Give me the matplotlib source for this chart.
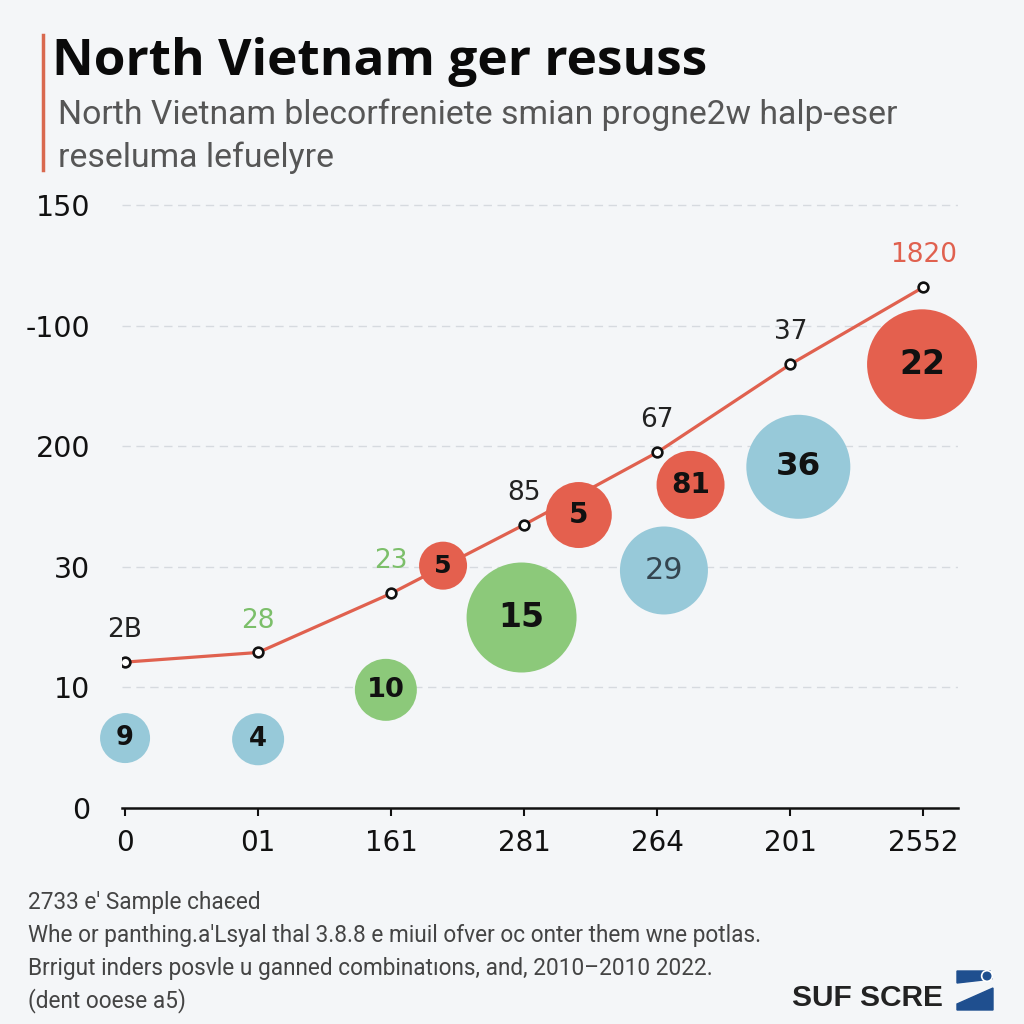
import matplotlib
matplotlib.use("Agg")
import matplotlib.pyplot as plt
from matplotlib.lines import Line2D
from matplotlib.patches import Circle, Polygon

# category positions on the x axis and their (odd) labels
x_pos = [0, 1, 2, 3, 4, 5, 6]
x_labels = ["0", "01", "161", "281", "264", "201", "2552"]
y_pos = [0, 1, 2, 3, 4, 5]
y_labels = ["0", "10", "30", "200", "-100", "150"]

# red trend line
line_y = [1.21, 1.29, 1.78, 2.35, 2.95, 3.68, 4.32]
line_labels = ["2B", "28", "23", "85", "67", "37", "1820"]
line_label_colors = ["#222222", "#7cbf6a", "#7cbf6a", "#222222", "#222222", "#222222", "#e0614f"]

# bubbles
bubble_x = [0.0, 1.0, 1.96, 2.39, 2.98, 3.41, 4.05, 4.25, 5.06, 5.99]
bubble_y = [0.58, 0.57, 0.98, 2.01, 1.58, 2.43, 1.97, 2.68, 2.83, 3.68]
bubble_r = [25, 26, 31, 24, 55, 33, 44, 34, 52, 55]
bubble_group = ["blue", "blue", "green", "red", "green", "red", "blue", "red", "blue", "red"]
bubble_labels = ["9", "4", "10", "5", "15", "5", "29", "81", "36", "22"]

colors = {"red": "#e4604e", "blue": "#97c9d9", "green": "#8cc97a"}
BG = "#f4f6f8"

fig = plt.figure(figsize=(10.24, 10.24), dpi=100, facecolor=BG)
ax = fig.add_axes([122 / 1024, 1 - 808 / 1024, 836 / 1024, 639 / 1024])
ax.set_facecolor(BG)
ax.set_xlim(-0.023, 6.26)
ax.set_ylim(0, 5.3)

for y in y_pos[1:]:
    ax.axhline(y, color="#d6dadf", lw=1.0, ls=(0, (6, 4)), zorder=0)

ax.plot(x_pos, line_y, color="#e0614f", lw=2.3, zorder=2,
        marker="o", ms=7, mfc="white", mec="#111111", mew=1.9)
for x, y, lab, c in zip(x_pos, line_y, line_labels, line_label_colors):
    ax.annotate(lab, (x, y), xytext=(0, 23), textcoords="offset points",
                ha="center", va="center", fontsize=19, color=c, zorder=4)

dot = 72 / fig.dpi
sizes = [(2 * r * dot) ** 2 for r in bubble_r]
ax.scatter(bubble_x, bubble_y, s=sizes, c=[colors[g] for g in bubble_group],
           edgecolors="none", zorder=3, clip_on=False)
for x, y, lab, r in zip(bubble_x, bubble_y, bubble_labels, bubble_r):
    fs = 14 + r * 0.18
    if lab == "29":
        ax.text(x, y, lab, ha="center", va="center", fontsize=fs, color="#34454f", zorder=4)
    else:
        ax.text(x, y, lab, ha="center", va="center", fontsize=fs, fontweight="bold",
                color="#111111", zorder=4)

for s in ["top", "right", "left"]:
    ax.spines[s].set_visible(False)
ax.spines["bottom"].set_color("#111111")
ax.spines["bottom"].set_linewidth(1.8)
ax.set_xticks(x_pos)
ax.set_xticklabels(x_labels)
ax.set_yticks(y_pos)
ax.set_yticklabels(y_labels)
ax.tick_params(axis="x", length=6, width=1.5, color="#111111", pad=9, labelsize=20,
               labelcolor="#111111")
ax.tick_params(axis="y", length=0, pad=23, labelsize=20.5, labelcolor="#111111")

# title block
fig.add_artist(Line2D([43 / 1024, 43 / 1024], [1 - 35 / 1024, 1 - 170 / 1024],
                      color="#d9694f", lw=2.5))
fig.text(52 / 1024, 1 - 62 / 1024, "North Vietnam ger resuss", fontsize=37,
         fontweight="bold", family="Open Sans", color="#0a0a0a", va="center")
fig.text(58 / 1024, 1 - 115 / 1024, "North Vietnam blecorfreniete smian progne2w halp-eser",
         fontsize=24.3, family="Roboto", color="#565656", va="center")
fig.text(58 / 1024, 1 - 158 / 1024, "reseluma lefuelyre",
         fontsize=24.3, family="Roboto", color="#565656", va="center")

# footer
footer = [
    "2733 e' Sample chaєed",
    "Whe or panthing.a'Lsyal thal 3.8.8 e miuil ofver oc onter them wne potlas.",
    "Brrigut inders posvle u ganned combinatıons, and, 2010\u20132010 2022.",
    "(dent ooese a5)",
]
for i, t in enumerate(footer):
    fig.text(28 / 1024, 1 - (903 + i * 32.5) / 1024, t, fontsize=16.3, family="Roboto",
             color="#444444", va="center")

# logo
fig.text(943 / 1024, 1 - 998 / 1024, "SUF SCRE", fontsize=21.5, fontweight="bold",
         family="Liberation Sans", color="#222222", ha="right", va="center")
navy = "#1f4f8f"
px = lambda x, y: (x / 1024, 1 - y / 1024)
fig.add_artist(Polygon([px(957, 971), px(990, 971), px(992, 979), px(957, 983)],
                       closed=True, color=navy, transform=fig.transFigure))
fig.add_artist(Circle(px(987, 976), 5.5 / 1024, color="white", transform=fig.transFigure))
fig.add_artist(Circle(px(987, 976), 3.8 / 1024, color=navy, transform=fig.transFigure))
fig.add_artist(Polygon([px(957, 1004), px(993, 988), px(993, 1010), px(957, 1010)],
                       closed=True, color=navy, transform=fig.transFigure))

fig.savefig("out.png", dpi=100, facecolor=BG)
